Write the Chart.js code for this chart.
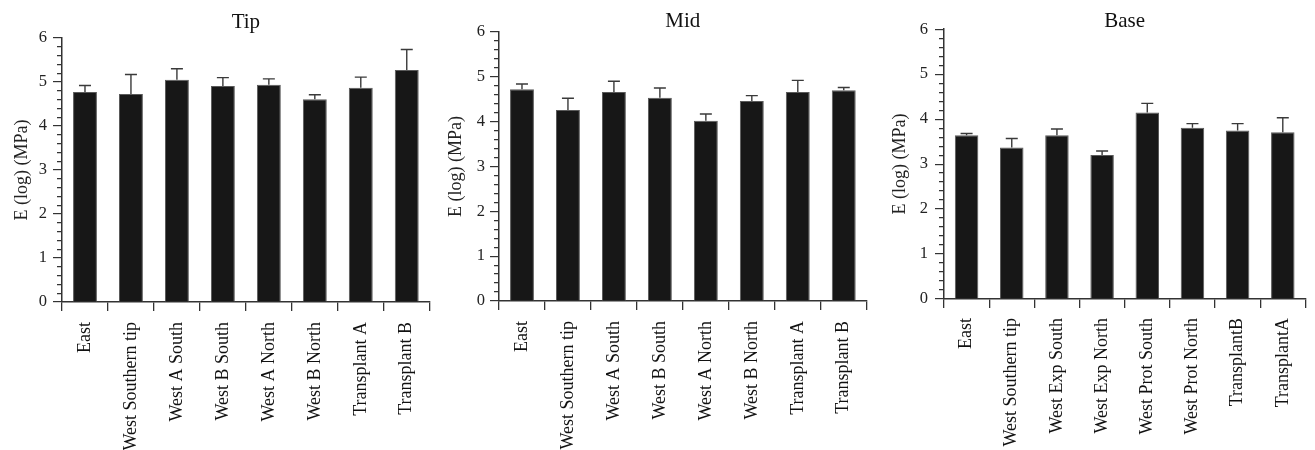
<!DOCTYPE html>
<html>
<head>
<meta charset="utf-8">
<script src="https://cdn.jsdelivr.net/npm/chart.js@4"></script>
<style>
  body { margin: 0; background: #fff; }
  #wrap { position: relative; width: 1315px; height: 450px; overflow: hidden; }
  canvas { position: absolute; top: 0; }
</style>
</head>
<body>
<div id="wrap">
  <canvas id="tipChart" width="440" height="450" style="left:0px"></canvas>
  <canvas id="midChart" width="437" height="450" style="left:440px"></canvas>
  <canvas id="baseChart" width="438" height="450" style="left:877px"></canvas>
</div>
<script>
// Tip panel
const tipLabels = ["East", "West Southern tip", "West A South", "West B South", "West A North", "West B North", "Transplant A", "Transplant B"];
const tipMean = [4.77, 4.73, 5.05, 4.91, 4.94, 4.61, 4.87, 5.27];
const tipErr = [0.15, 0.44, 0.25, 0.19, 0.13, 0.10, 0.24, 0.47];

// Mid panel
const midLabels = ["East", "West Southern tip", "West A South", "West B South", "West A North", "West B North", "Transplant A", "Transplant B"];
const midMean = [4.72, 4.26, 4.66, 4.53, 4.02, 4.46, 4.66, 4.70];
const midErr = [0.12, 0.26, 0.24, 0.22, 0.15, 0.12, 0.26, 0.06];

// Base panel
const baseLabels = ["East", "West Southern tip", "West Exp South", "West Exp North", "West Prot South", "West Prot North", "TransplantB", "TransplantA"];
const baseMean = [3.64, 3.37, 3.64, 3.20, 4.15, 3.81, 3.75, 3.71];
const baseErr = [0.04, 0.20, 0.14, 0.09, 0.20, 0.09, 0.15, 0.32];

const yTicks = [0, 1, 2, 3, 4, 5, 6];

const FONT = "'Liberation Serif', 'Times New Roman', serif";
const INK = '#333333';

// upper error bars, drawn from the bar top using the y scale
const errorBars = {
    id: 'errorBars',
    afterDatasetsDraw(chart) {
        const ctx = chart.ctx;
        const yScale = chart.scales.y;
        const ds = chart.data.datasets[0];
        const meta = chart.getDatasetMeta(0);
        ctx.save();
        ctx.strokeStyle = '#3a3a3a';
        ctx.lineWidth = 1.4;
        meta.data.forEach((bar, i) => {
            const top = yScale.getPixelForValue(ds.data[i] + ds.errors[i]);
            ctx.beginPath();
            ctx.moveTo(bar.x, bar.y);
            ctx.lineTo(bar.x, top);
            ctx.moveTo(bar.x - 6, top);
            ctx.lineTo(bar.x + 6, top);
            ctx.stroke();
        });
        ctx.restore();
    }
};

function isMajor(v) {
    return yTicks.some(t => Math.abs(t - v) < 1e-6);
}

function makeChart(id, title, labels, means, errs, box) {
    const ctx = document.getElementById(id).getContext('2d');
    return new Chart(ctx, {
        type: 'bar',
        data: {
            labels: labels,
            datasets: [{
                data: means,
                errors: errs,
                backgroundColor: '#171717',
                borderColor: '#5a5a5a',
                borderWidth: 1,
                barPercentage: 0.52,
                categoryPercentage: 1.0
            }]
        },
        options: {
            responsive: false,
            animation: false,
            devicePixelRatio: 1,
            layout: { padding: { left: 0, right: box.padRight, top: 0, bottom: 0 } },
            plugins: {
                legend: { display: false },
                tooltip: { enabled: false },
                title: {
                    display: true,
                    text: title,
                    fullSize: false,
                    color: '#111',
                    font: { family: FONT, size: 21, weight: 'normal', lineHeight: box.titleLH },
                    padding: { top: box.titleTop, bottom: box.titleBottom }
                }
            },
            scales: {
                x: {
                    offset: true,
                    border: { color: INK, width: 1.5 },
                    grid: { drawOnChartArea: false, tickLength: 9, color: INK, lineWidth: 1.3 },
                    ticks: {
                        color: '#111',
                        font: { family: FONT, size: 18 },
                        minRotation: 90,
                        maxRotation: 90,
                        autoSkip: false,
                        padding: box.xPad
                    },
                    afterFit: s => { s.height = box.xHeight; }
                },
                y: {
                    min: 0,
                    max: 6,
                    border: { color: INK, width: 1.5 },
                    grid: {
                        drawOnChartArea: false,
                        tickLength: 9,
                        color: INK,
                        lineWidth: 1.2,
                        tickBorderDash: c => (c.tick && isMajor(c.tick.value)) ? [] : [0, 4, 20, 0]
                    },
                    ticks: {
                        stepSize: 0.2,
                        autoSkip: false,
                        padding: box.yPad,
                        color: '#222',
                        font: { family: FONT, size: 16.5 },
                        callback: v => isMajor(v) ? String(Math.round(v)) : ''
                    },
                    title: {
                        display: true,
                        text: 'E (log) (MPa)',
                        color: '#222',
                        font: { family: FONT, size: 18, lineHeight: 1 },
                        padding: { top: box.yTitlePad, bottom: 0 }
                    },
                    afterFit: s => { s.width = box.yWidth; }
                }
            }
        },
        plugins: [errorBars]
    });
}

makeChart('tipChart', 'Tip', tipLabels, tipMean, tipErr,
    { padRight: 7, yWidth: 62, xHeight: 148, xPad: 11, yPad: 6, titleLH: 1, titleTop: 12, titleBottom: 5, yTitlePad: 13 });
makeChart('midChart', 'Mid', midLabels, midMean, midErr,
    { padRight: 2, yWidth: 59, xHeight: 149, xPad: 11, yPad: 5, titleLH: 0.95, titleTop: 12, titleBottom: 0, yTitlePad: 7 });
makeChart('baseChart', 'Base', baseLabels, baseMean, baseErr,
    { padRight: 4, yWidth: 67, xHeight: 151, xPad: 10, yPad: 7, titleLH: 0.7, titleTop: 14.5, titleBottom: 0, yTitlePad: 14 });
</script>
</body>
</html>
